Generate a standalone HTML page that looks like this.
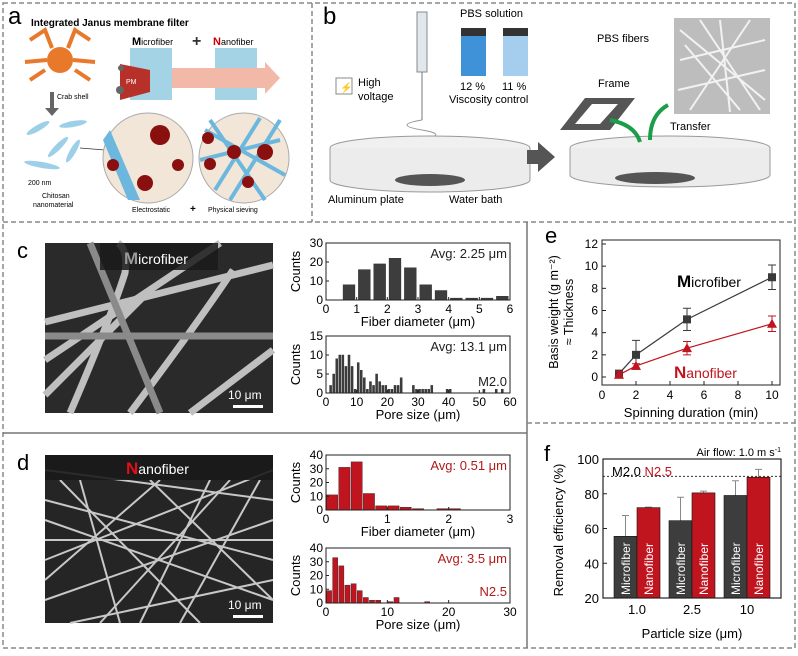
<!DOCTYPE html>
<html><head><meta charset="utf-8"><style>
body{margin:0;background:#fff;width:798px;height:651px;overflow:hidden;font-family:"Liberation Sans",sans-serif}
svg text{font-family:"Liberation Sans",sans-serif}
</style></head><body>
<svg id="fig" width="798" height="651" viewBox="0 0 798 651" xmlns="http://www.w3.org/2000/svg">
<rect width="798" height="651" fill="#fff"/>
<g fill="none" stroke="#888" stroke-width="1.5">
<rect x="3" y="3" width="792" height="645" stroke-dasharray="5,3"/>
<line x1="312" y1="3" x2="312" y2="222" stroke-dasharray="5,3"/>
<line x1="3" y1="222" x2="795" y2="222" stroke-dasharray="5,3"/>
<line x1="3" y1="433" x2="527" y2="433" stroke="#777"/>
<line x1="527" y1="222" x2="527" y2="648" stroke="#777"/>
<line x1="527" y1="423" x2="795" y2="423" stroke-dasharray="5,3"/>
</g>
<g>
<text x="8" y="24" font-size="24">a</text>
<text x="31" y="26" font-size="10" font-weight="bold">Integrated Janus membrane filter</text>
<g>
<circle cx="60" cy="60" r="13" fill="#e8782a"/>
<path d="M30 40 L45 30 L52 48 M90 40 L75 30 L68 48 M30 80 L45 70 M90 80 L75 70 M25 62 L47 60 M95 62 L73 60" stroke="#e8782a" stroke-width="4" fill="none"/>
</g>
<text x="57" y="99" font-size="7">Crab shell</text>
<path d="M50 92 L50 108 L45 108 L52 116 L59 108 L54 108 L54 92Z" fill="#666"/>
<text x="132" y="45" font-size="9"><tspan font-size="11" font-weight="bold">M</tspan>icrofiber</text>
<text x="192" y="46" font-size="16" font-weight="bold" fill="#333">+</text>
<text x="213" y="45" font-size="9"><tspan font-size="11" font-weight="bold" fill="#c00">N</tspan>anofiber</text>
<rect x="130" y="48" width="42" height="52" fill="#8ec8e0" opacity="0.8"/>
<rect x="215" y="48" width="42" height="52" fill="#8ec8e0" opacity="0.8"/>
<path d="M172 68 L265 68 L265 62 L280 78 L265 94 L265 88 L172 88Z" fill="#f3b9a8"/>
<path d="M120 64 L150 70 L150 92 L120 100Z" fill="#b8302a"/>
<text x="126" y="84" font-size="7" fill="#fff">PM</text>
<circle cx="120" cy="90" r="4" fill="#666"/><circle cx="121" cy="68" r="3" fill="#666"/>
<g fill="#9dd0e8">
<ellipse cx="38" cy="128" rx="13" ry="3" transform="rotate(-30 38 128)"/>
<ellipse cx="73" cy="124" rx="14" ry="3" transform="rotate(-10 73 124)"/>
<ellipse cx="58" cy="147" rx="14" ry="3" transform="rotate(-45 58 147)"/>
<ellipse cx="73" cy="151" rx="13" ry="3" transform="rotate(-60 73 151)"/>
<ellipse cx="42" cy="165" rx="18" ry="3" transform="rotate(10 42 165)"/>
</g>
<text x="28" y="185" font-size="7">200 nm</text>
<text x="42" y="198" font-size="7">Chitosan</text>
<text x="33" y="207" font-size="7">nanomaterial</text>
<line x1="80" y1="148" x2="105" y2="150" stroke="#333" stroke-width="0.8"/>
<circle cx="148" cy="158" r="45" fill="#f2e6d8" stroke="#aaa"/>
<path d="M110 130 L140 200 L128 200 L103 140Z" fill="#6cb7dd"/>
<circle cx="160" cy="135" r="10" fill="#8a1010"/><circle cx="145" cy="183" r="8" fill="#8a1010"/><circle cx="178" cy="165" r="6" fill="#8a1010"/><circle cx="113" cy="165" r="6" fill="#8a1010"/>
<circle cx="244" cy="158" r="45" fill="#f2e6d8" stroke="#aaa"/>
<path d="M205 130 L285 175 M200 160 L280 140 M215 190 L260 118 M230 200 L280 120 M210 120 L265 200" stroke="#6cb7dd" stroke-width="4"/>
<circle cx="208" cy="138" r="6" fill="#8a1010"/><circle cx="234" cy="152" r="7" fill="#8a1010"/><circle cx="265" cy="152" r="8" fill="#8a1010"/><circle cx="210" cy="164" r="6" fill="#8a1010"/><circle cx="248" cy="182" r="6" fill="#8a1010"/>
<text x="132" y="212" font-size="7">Electrostatic</text>
<text x="190" y="212" font-size="10" font-weight="bold">+</text>
<text x="208" y="212" font-size="7">Physical sieving</text>
</g>
<g>
<text x="323" y="24" font-size="24">b</text>
<rect x="417" y="12" width="10" height="60" fill="#e0e8ee" stroke="#888"/>
<line x1="422" y1="72" x2="422" y2="120" stroke="#777"/>
<path d="M422 120 q-30 5 0 10 q30 5 -5 10 q-30 5 5 10" stroke="#999" fill="none"/>
<rect x="336" y="78" width="16" height="16" fill="#fff" stroke="#888"/>
<text x="340" y="91" font-size="10" fill="#f0a000">⚡</text>
<text x="358" y="86" font-size="11">High</text>
<text x="358" y="100" font-size="11">voltage</text>
<text x="460" y="17" font-size="11">PBS solution</text>
<rect x="461" y="28" width="25" height="8" fill="#333"/><rect x="461" y="36" width="25" height="40" fill="#3f92d8"/>
<rect x="503" y="28" width="25" height="8" fill="#333"/><rect x="503" y="36" width="25" height="40" fill="#a5cdee"/>
<text x="460" y="90" font-size="11">12 %</text><text x="502" y="90" font-size="11">11 %</text>
<text x="449" y="103" font-size="11">Viscosity control</text>
<ellipse cx="430" cy="148" rx="100" ry="12" fill="#f0f0f0" stroke="#999"/>
<path d="M330 148 L330 180 A100 12 0 0 0 530 180 L530 148" fill="#ececec" stroke="#999"/>
<ellipse cx="430" cy="180" rx="35" ry="6" fill="#555"/>
<text x="328" y="203" font-size="11">Aluminum plate</text>
<text x="449" y="203" font-size="11">Water bath</text>
<path d="M527 150 L538 150 L538 142 L555 157 L538 172 L538 164 L527 164Z" fill="#555"/>
<ellipse cx="670" cy="148" rx="100" ry="12" fill="#f0f0f0" stroke="#999"/>
<path d="M570 148 L570 175 A100 12 0 0 0 770 175 L770 148" fill="#ececec" stroke="#999"/>
<ellipse cx="655" cy="178" rx="40" ry="6" fill="#555"/>
<text x="598" y="87" font-size="11">Frame</text>
<path d="M560 130 L585 98 L635 98 L610 130Z" fill="#555"/><path d="M575 124 L592 104 L618 104 L600 124Z" fill="#fff"/>
<path d="M610 120 Q635 125 640 142 M650 140 Q650 115 668 105" stroke="#1a9e4a" stroke-width="4" fill="none"/>
<text x="670" y="130" font-size="11">Transfer</text>
<text x="597" y="42" font-size="11">PBS fibers</text>
<rect x="674" y="18" width="96" height="96" fill="#bdbdbd"/>
<path d="M680 30 L765 100 M680 60 L765 40 M690 110 L750 20 M700 20 L760 110 M678 90 L765 70 M720 20 L730 112 M685 45 L740 110" stroke="#f2f2f2" stroke-width="2"/>
</g>
<g>
<text x="17" y="258" font-size="22">c</text>
<rect x="45" y="243" width="228" height="170" fill="#2a2a2a"/>
<g stroke="#bfbfbf" stroke-width="7" fill="none">
<path d="M45 322 L273 265"/><path d="M70 413 Q110 320 125 273 Q128 250 118 243"/><path d="M130 413 Q200 320 233 270"/><path d="M45 395 L150 290"/><path d="M190 413 L273 350"/><path d="M45 360 L220 243"/><path d="M160 413 L90 243" stroke="#8a8a8a"/><path d="M45 336 L273 336" stroke="#8a8a8a"/>
</g>
<rect x="100" y="243" width="118" height="27" fill="#1a1a1a" opacity="0.85"/>
<text x="124" y="264" font-size="14" fill="#fff"><tspan font-size="17" font-weight="bold" fill="#999">M</tspan>icrofiber</text>
<text x="228" y="399" font-size="12" fill="#fff">10 μm</text>
<rect x="233" y="405" width="30" height="3" fill="#fff"/>
</g>
<g>
<text x="17" y="470" font-size="22">d</text>
<rect x="45" y="455" width="228" height="168" fill="#252525"/>
<g stroke="#c8c8c8" stroke-width="2" fill="none">
<path d="M45 500 L273 560"/><path d="M60 480 L200 623"/><path d="M45 560 L273 470"/><path d="M100 623 L230 480"/><path d="M45 600 L273 520"/><path d="M150 480 L273 600"/><path d="M45 520 L273 600"/><path d="M80 480 L120 623"/><path d="M180 623 L260 480"/><path d="M45 540 L273 540"/><path d="M45 470 L273 500"/><path d="M70 623 L273 580"/><path d="M210 480 L140 623"/><path d="M45 580 L160 480"/>
</g>
<rect x="45" y="455" width="228" height="25" fill="#1a1a1a" opacity="0.9"/>
<text x="126" y="474" font-size="14" fill="#fff"><tspan font-size="17" font-weight="bold" fill="#e0101a">N</tspan>anofiber</text>
<text x="228" y="609" font-size="12" fill="#fff">10 μm</text>
<rect x="233" y="615" width="30" height="3" fill="#fff"/>
</g>
<g id="charts"></g>
</svg>
<script>
const cFiberCenters=[0.75,1.25,1.75,2.25,2.75,3.25,3.75,4.25,4.75,5.25,5.75];
const cFiberCounts=[8,16,19,22,17,8,5,1,1,1,2];
const cFiberXTicks=[0,1,2,3,4,5,6];
const cFiberYTicks=[0,10,20,30];
const cPoreCenters=[1.5,2.5,3.5,4.5,5.5,6.5,7.5,8.5,9.5,10.5,11.5,12.5,13.5,14.5,15.5,16.5,17.5,18.5,19.5,20.5,21.5,22.5,23.5,24.5,28.5,29.5,30.5,31.5,32.5,33.5,34.5,39.5,40.5,51.5,55.5,57.5];
const cPoreCounts=[2,5,9,10,10,7,10,7,1,8,6,4,1,3,2,5,3,2,2,1,1,2,2,4,2,1,1,1,1,1,2,1,1,1,1,1];
const cPoreXTicks=[0,10,20,30,40,50,60];
const cPoreYTicks=[0,5,10,15];
const dFiberCenters=[0.1,0.3,0.5,0.7,0.9,1.1,1.3,1.5,1.9,2.1];
const dFiberCounts=[11,31,35,12,3,3,2,1,1,1];
const dFiberXTicks=[0,1,2,3];
const dFiberYTicks=[0,10,20,30,40];
const dPoreCenters=[0.5,1.5,2.5,3.5,4.5,5.5,6.5,7.5,8.5,10.5,11.5,16.5];
const dPoreCounts=[9,33,27,13,14,9,4,2,2,1,4,1];
const dPoreXTicks=[0,10,20,30];
const dPoreYTicks=[0,10,20,30,40];
const eTimes=[1,2,5,10];
const eMicro=[0.3,2.0,5.2,9.0];
const eMicroErr=[0.3,1.3,1.0,1.1];
const eNano=[0.2,1.0,2.6,4.8];
const eNanoErr=[0.3,0.2,0.6,0.7];
const eXTicks=[0,2,4,6,8,10];
const eYTicks=[0,2,4,6,8,10,12];
const fCategories=["1.0","2.5","10"];
const fMicro=[55.5,64.5,79];
const fMicroErr=[12,13.5,8.5];
const fNano=[72,80.5,89.5];
const fNanoErr=[0.3,1,4.5];
const fYTicks=[20,40,60,80,100];
const fThreshold=90;

const NS="http://www.w3.org/2000/svg";
const root=document.getElementById('charts');
function mk(tag,attrs,parent,text){const e=document.createElementNS(NS,tag);for(const k in attrs)e.setAttribute(k,attrs[k]);if(text!==undefined)e.textContent=text;(parent||root).appendChild(e);return e;}
function lin(d0,d1,r0,r1){return v=>r0+(v-d0)/(d1-d0)*(r1-r0);}

function hist(o){
  const g=mk('g',{});
  
  
  const x=lin(o.xd[0],o.xd[1],o.x0,o.x1), y=lin(o.yd[0],o.yd[1],o.y1,o.y0);
  o.centers.forEach((c,i)=>{
    const b=mk('rect',{x:x(c-o.bw/2)+0.5,y:y(o.counts[i]),width:Math.max(1,x(c+o.bw/2)-x(c-o.bw/2)-1),height:y(0)-y(o.counts[i]),fill:o.color,stroke:'#222','stroke-width':0.4},g);
    
    
  });
  mk('rect',{x:o.x0,y:o.y0,width:o.x1-o.x0,height:o.y1-o.y0,fill:'none',stroke:'#222','stroke-width':1},g);
  o.xt.forEach(t=>{mk('line',{x1:x(t),x2:x(t),y1:o.y1,y2:o.y1-3,stroke:'#222'},g);
    const tl=mk('text',{x:x(t),y:o.y1+13,'font-size':12,'text-anchor':'middle'},g,t);
    
    });
  o.yt.forEach(t=>{mk('line',{x1:o.x0,x2:o.x0+3,y1:y(t),y2:y(t),stroke:'#222'},g);
    const tl=mk('text',{x:o.x0-3,y:y(t)+4,'font-size':12,'text-anchor':'end'},g,t);
    
    });
  const xl=mk('text',{x:(o.x0+o.x1)/2,y:o.y1+26,'font-size':13,'text-anchor':'middle'},g,o.xlabel);
  
  
  const yl=mk('text',{x:0,y:0,'font-size':13,'text-anchor':'middle',transform:`translate(${o.x0-26},${(o.y0+o.y1)/2}) rotate(-90)`},g,'Counts');
  
  
  const av=mk('text',{x:o.x1-3,y:o.y0+15,'font-size':13,'text-anchor':'end',fill:o.tcolor},g,o.avg);
  
  
  if(o.tag){const tg=mk('text',{x:o.x1-3,y:o.y1-7,'font-size':13,'text-anchor':'end',fill:o.tcolor},g,o.tag);
    
    }
}
hist({name:'c-fiber-histogram',centers:cFiberCenters,counts:cFiberCounts,bw:0.42,xd:[0,6],yd:[0,30],x0:326,x1:510,y0:243,y1:300,xt:cFiberXTicks,yt:cFiberYTicks,color:'#3d3d3d',tcolor:'#222',avg:'Avg: 2.25 μm',xlabel:'Fiber diameter (μm)'});
hist({name:'c-pore-histogram',centers:cPoreCenters,counts:cPoreCounts,bw:1,xd:[0,60],yd:[0,15],x0:326,x1:510,y0:336,y1:393,xt:cPoreXTicks,yt:cPoreYTicks,color:'#3d3d3d',tcolor:'#222',avg:'Avg: 13.1 μm',tag:'M2.0',xlabel:'Pore size (μm)'});
hist({name:'d-fiber-histogram',centers:dFiberCenters,counts:dFiberCounts,bw:0.2,xd:[0,3],yd:[0,40],x0:326,x1:510,y0:455,y1:510,xt:dFiberXTicks,yt:dFiberYTicks,color:'#c0141e',tcolor:'#b01a1a',avg:'Avg: 0.51 μm',xlabel:'Fiber diameter (μm)'});
hist({name:'d-pore-histogram',centers:dPoreCenters,counts:dPoreCounts,bw:1,xd:[0,30],yd:[0,40],x0:326,x1:510,y0:548,y1:603,xt:dPoreXTicks,yt:dPoreYTicks,color:'#c0141e',tcolor:'#b01a1a',avg:'Avg: 3.5 μm',tag:'N2.5',xlabel:'Pore size (μm)'});

(function(){
  const g=mk('g',{});
  
  
  const X0=602,X1=780,Y0=240,Y1=385;
  const x=lin(0,10,602,772), y=lin(0,12,377,244);
  mk('text',{x:545,y:243,'font-size':22},g,'e');
  mk('rect',{x:X0,y:Y0,width:X1-X0,height:Y1-Y0,fill:'none',stroke:'#222'},g);
  eXTicks.forEach(t=>{mk('line',{x1:x(t),x2:x(t),y1:Y1,y2:Y1-4,stroke:'#222'},g);
    const tl=mk('text',{x:x(t),y:Y1+14,'font-size':12,'text-anchor':'middle'},g,t);
    
    });
  eYTicks.forEach(t=>{mk('line',{x1:X0,x2:X0+4,y1:y(t),y2:y(t),stroke:'#222'},g);
    const tl=mk('text',{x:X0-4,y:y(t)+4,'font-size':12,'text-anchor':'end'},g,t);
    
    });
  const xl=mk('text',{x:691,y:417,'font-size':13,'text-anchor':'middle'},g,'Spinning duration (min)');
  
  
  const yl=mk('text',{'font-size':12.5,'text-anchor':'middle',transform:'translate(558,312) rotate(-90)'},g,'Basis weight (g m⁻²)');
  
  
  mk('text',{'font-size':12.5,'text-anchor':'middle',transform:'translate(573,312) rotate(-90)'},g,'≈ Thickness');
  function series(vals,errs,col,tri,nm){
    const pts=eTimes.map((t,i)=>x(t)+','+y(vals[i])).join(' ');
    const l=mk('polyline',{points:pts,fill:'none',stroke:col,'stroke-width':1.2},g);
    
    
    eTimes.forEach((t,i)=>{
      const cx=x(t),cy=y(vals[i]),e1=y(vals[i]+errs[i]),e2=y(vals[i]-errs[i]);
      mk('path',{d:`M${cx} ${e1}V${e2}M${cx-4} ${e1}H${cx+4}M${cx-4} ${e2}H${cx+4}`,stroke:col,'stroke-width':1},g);
      const m=tri?mk('path',{d:`M${cx} ${cy-5}L${cx+5} ${cy+4}L${cx-5} ${cy+4}Z`,fill:col},g):mk('rect',{x:cx-4,y:cy-4,width:8,height:8,fill:col},g);
      
      
    });
  }
  series(eMicro,eMicroErr,'#3a3a3a',false,'microfiber');
  series(eNano,eNanoErr,'#c0141e',true,'nanofiber');
  const t1=mk('text',{x:677,y:287,'font-size':14},g);t1.innerHTML='<tspan font-weight="bold" font-size="17">M</tspan>icrofiber';
  
  
  const t2=mk('text',{x:674,y:378,'font-size':14,fill:'#c0141e'},g);t2.innerHTML='<tspan font-weight="bold" font-size="17">N</tspan>anofiber';
  
  
})();

(function(){
  const g=mk('g',{});
  
  
  const X0=603,X1=781,Y0=459,Y1=598;
  const y=lin(20,100,598,459);
  const gx=i=>637+i*55;
  mk('text',{x:544,y:461,'font-size':22},g,'f');
  const af=mk('text',{x:781,y:456,'font-size':11,'text-anchor':'end'},g);af.innerHTML='Air flow: 1.0 m s<tspan font-size="7" dy="-4">-1</tspan>';
  fCategories.forEach((c,i)=>{
    [[fMicro,fMicroErr,'#3d3d3d',-23,'Microfiber'],[fNano,fNanoErr,'#c0141e',0,'Nanofiber']].forEach(s=>{
      const v=s[0][i],e=s[1][i],bx=gx(i)+s[3];
      mk('path',{d:`M${bx+11.5} ${y(v)}V${y(v+e)}M${bx+8} ${y(v+e)}H${bx+15}`,stroke:'#888','stroke-width':1},g);
      const b=mk('rect',{x:bx,y:y(v),width:23,height:Y1-y(v),fill:s[2],stroke:'#111','stroke-width':0.6},g);
      
      
      mk('text',{'font-size':12,fill:'#fff','text-anchor':'start',transform:`translate(${bx+16},${Y1-3}) rotate(-90)`},g,s[4]);
    });
    const tl=mk('text',{x:gx(i),y:Y1+16,'font-size':13,'text-anchor':'middle'},g,c);
    
    
    mk('line',{x1:gx(i),x2:gx(i),y1:Y1,y2:Y1-4,stroke:'#222'},g);
  });
  mk('line',{x1:X0,x2:X1,y1:y(fThreshold),y2:y(fThreshold),stroke:'#333','stroke-dasharray':'2,2'},g);
  mk('rect',{x:X0,y:Y0,width:X1-X0,height:Y1-Y0,fill:'none',stroke:'#222','stroke-width':1.2},g);
  fYTicks.forEach(t=>{mk('line',{x1:X0,x2:X0+4,y1:y(t),y2:y(t),stroke:'#222'},g);
    const tl=mk('text',{x:X0-4,y:y(t)+5,'font-size':13,'text-anchor':'end'},g,t);
    
    });
  const lg=mk('text',{x:612,y:476,'font-size':13},g);lg.innerHTML='M2.0 <tspan fill="#c0141e">N2.5</tspan>';
  
  
  const xl=mk('text',{x:692,y:638,'font-size':13,'text-anchor':'middle'},g,'Particle size (μm)');
  
  
  const yl=mk('text',{'font-size':13,'text-anchor':'middle',transform:'translate(563,530) rotate(-90)'},g,'Removal efficiency (%)');
  
  
})();
</script>
</body></html>
